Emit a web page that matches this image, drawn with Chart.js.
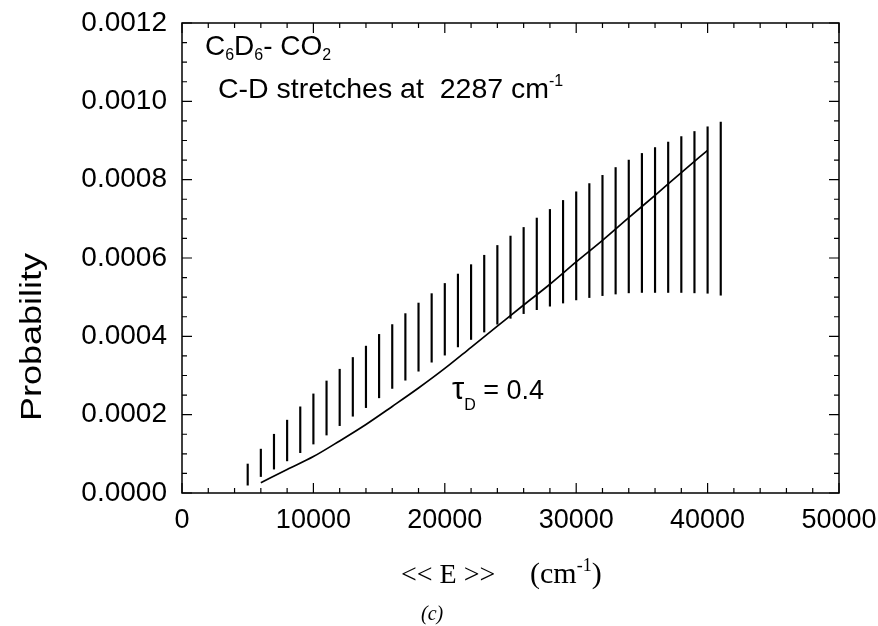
<!DOCTYPE html>
<html>
<head>
<meta charset="utf-8">
<script src="https://cdn.jsdelivr.net/npm/chart.js@4.4.0/dist/chart.umd.min.js"></script>
<style>
  html, body { margin: 0; padding: 0; background: #fff; }
  #wrap { width: 878px; height: 626px; }
</style>
</head>
<body>
<div id="wrap"><canvas id="myChart" width="878" height="626"></canvas></div>
<script>
// energy of each vertical bar (cm-1) and its lower / upper probability
const barE = [5000, 6000, 7000, 8000, 9000, 10000, 11000, 12000, 13000, 14000,
  15000, 16000, 17000, 18000, 19000, 20000, 21000, 22000, 23000, 24000,
  25000, 26000, 27000, 28000, 29000, 30000, 31000, 32000, 33000, 34000,
  35000, 36000, 37000, 38000, 39000, 40000, 41000]
const barLow = [0.000020, 0.000042, 0.000061, 0.000082, 0.000103, 0.000125, 0.000148, 0.000172, 0.000196, 0.000218,
  0.000243, 0.000267, 0.000288, 0.000311, 0.000334, 0.000352, 0.000373, 0.000392, 0.000411, 0.000431,
  0.000446, 0.000458, 0.000468, 0.000477, 0.000485, 0.000493, 0.000499, 0.000504, 0.000508, 0.000511,
  0.000512, 0.000512, 0.000512, 0.000512, 0.000511, 0.000510, 0.000505]
const barHigh = [0.000074, 0.000112, 0.000150, 0.000186, 0.000220, 0.000253, 0.000286, 0.000316, 0.000346, 0.000375,
  0.000405, 0.000430, 0.000458, 0.000485, 0.000509, 0.000535, 0.000559, 0.000583, 0.000607, 0.000632,
  0.000656, 0.000678, 0.000702, 0.000724, 0.000747, 0.000769, 0.000790, 0.000811, 0.000831, 0.000850,
  0.000867, 0.000882, 0.000896, 0.000910, 0.000923, 0.000935, 0.000947]

// tau_D = 0.4 curve
const curveE = [6000, 8000, 10000, 12000, 14000, 16000, 18000, 20000, 22000, 24000,
  26000, 28000, 30000, 32000, 34000, 36000, 38000, 40000]
const curveP = [0.000026, 0.000060, 0.000093, 0.000133, 0.000175, 0.000221, 0.000268, 0.000318, 0.000372, 0.000426,
  0.000480, 0.000533, 0.000590, 0.000645, 0.000703, 0.000760, 0.000818, 0.000875]

const xTicks = [0, 10000, 20000, 30000, 40000, 50000]
const yTicks = [0, 0.0002, 0.0004, 0.0006, 0.0008, 0.0010, 0.0012]

const sans = '"Liberation Sans", Arial, sans-serif'
const serif = '"Liberation Serif", "Times New Roman", serif'

// writes a run of [text, size, dy] pieces one after another
function drawPieces(ctx, x, y, pieces, family, style) {
  pieces.forEach(p => {
    ctx.font = (style || '') + ' ' + p[1] + 'px ' + family
    ctx.fillText(p[0], x, y + (p[2] || 0))
    x += ctx.measureText(p[0]).width
  })
  return x
}

// stop tick labels from pushing the plot area in
function noOverflow(s) {
  s.paddingTop = 0
  s.paddingBottom = 0
  s.paddingLeft = 0
  s.paddingRight = 0
}

// box round the plot, with inward ticks on every side
const frame = {
  id: 'frame',
  afterDatasetsDraw(chart) {
    const ctx = chart.ctx
    const a = chart.chartArea
    const x = chart.scales.x, y = chart.scales.y
    ctx.save()
    ctx.strokeStyle = '#000'
    ctx.lineWidth = 1.5
    ctx.strokeRect(a.left, a.top, a.right - a.left, a.bottom - a.top)
    ctx.lineWidth = 1.2
    ctx.beginPath()
    for (let i = 0; i <= 25; i++) {
      const px = x.getPixelForValue(i * 2000)
      const len = i % 5 === 0 ? 10 : 5
      ctx.moveTo(px, a.bottom); ctx.lineTo(px, a.bottom - len)
      ctx.moveTo(px, a.top); ctx.lineTo(px, a.top + len)
    }
    for (let i = 0; i <= 24; i++) {
      const py = y.getPixelForValue(i * 0.00005)
      const len = i % 4 === 0 ? 10 : 5
      ctx.moveTo(a.left, py); ctx.lineTo(a.left + len, py)
      ctx.moveTo(a.right, py); ctx.lineTo(a.right - len, py)
    }
    ctx.stroke()
    ctx.restore()
  },
  afterDraw(chart) {
    const ctx = chart.ctx
    ctx.save()
    ctx.fillStyle = '#000'
    ctx.textBaseline = 'alphabetic'
    ctx.textAlign = 'left'

    drawPieces(ctx, 205, 55, [['C', 28], ['6', 16, 5], ['D', 28], ['6', 16, 5], ['- CO', 28], ['2', 16, 5]], sans)
    drawPieces(ctx, 218, 98, [['C-D stretches at  2287 cm', 28.5], ['-1', 16, -12]], sans)
    drawPieces(ctx, 452, 399, [['\u03c4', 31], ['D', 16, 11], [' = 0.4', 27]], sans)

    // axis titles
    drawPieces(ctx, 401, 583, [['<< E >>', 28]], serif)
    drawPieces(ctx, 530, 583, [['(cm', 30], ['-1', 18, -12], [')', 30]], serif)
    drawPieces(ctx, 421, 620, [['(', 20], ['c', 20], [')', 20]], serif, 'italic')

    ctx.translate(41, 337)
    ctx.rotate(-Math.PI / 2)
    ctx.scale(1.2, 1)
    ctx.textAlign = 'center'
    ctx.font = '30px ' + sans
    ctx.fillText('Probability', 0, 0)
    ctx.restore()
  }
}

const ctx = document.getElementById('myChart')

var grafico = new Chart(ctx, {
  type: 'line',
  data: {
    datasets: [{
      type: 'bar',
      data: barE.map((e, i) => ({ x: e, y: [barLow[i], barHigh[i]] })),
      backgroundColor: '#000',
      borderWidth: 0,
      barThickness: 1.5,
      grouped: false
    }, {
      type: 'line',
      data: curveE.map((e, i) => ({ x: e, y: curveP[i] })),
      borderColor: '#000',
      borderWidth: 1.7,
      pointRadius: 0,
      cubicInterpolationMode: 'monotone',
      fill: false
    }]
  },
  options: {
    responsive: false,
    animation: false,
    layout: { padding: { left: 0, right: 39, top: 23, bottom: 0 } },
    plugins: { legend: { display: false }, tooltip: { enabled: false } },
    scales: {
      x: {
        type: 'linear',
        min: 0,
        max: 50000,
        offset: false,
        grid: { display: false, drawTicks: false },
        border: { display: false },
        afterBuildTicks: s => { s.ticks = xTicks.map(v => ({ value: v })) },
        afterFit: s => { s.height = 133; noOverflow(s) },
        ticks: {
          color: '#000',
          padding: 11,
          maxRotation: 0,
          font: { family: sans, size: 27 },
          callback: v => String(v)
        }
      },
      y: {
        type: 'linear',
        min: 0,
        max: 0.0012,
        grid: { display: false, drawTicks: false },
        border: { display: false },
        afterBuildTicks: s => { s.ticks = yTicks.map(v => ({ value: v })) },
        afterFit: s => { s.width = 182; noOverflow(s) },
        ticks: {
          color: '#000',
          padding: 15,
          font: { family: sans, size: 28 },
          callback: v => v.toFixed(4)
        }
      }
    }
  },
  plugins: [frame]
})
</script>
</body>
</html>
